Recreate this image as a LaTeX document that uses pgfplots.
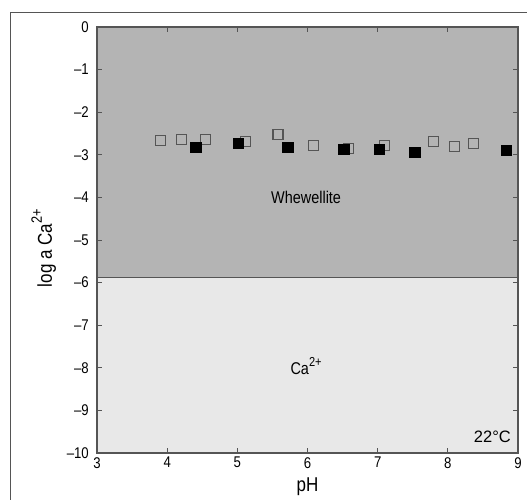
\documentclass[border=0pt]{standalone}
\usepackage{fontspec}
\setmainfont{Liberation Sans}[FakeStretch=0.85]
\newfontfamily\plainsans{Liberation Sans}
\usepackage{pgfplots}
\pgfplotsset{compat=1.18}

\definecolor{topgray}{RGB}{180,180,180}
\definecolor{lowgray}{RGB}{232,232,232}
\definecolor{linegray}{RGB}{85,85,85}

\begin{document}
\begin{tikzpicture}
\begin{axis}[
    name=ax,
    scale only axis,
    width=421pt, height=426pt,
    xmin=3, xmax=9,
    ymin=-10, ymax=0,
    xtick={3,4,5,6,7,8,9},
    xticklabels={3,4,5,6,7,8,9},
    ytick={-10,-9,-8,-7,-6,-5,-4,-3,-2,-1,0},
    yticklabels={--10,--9,--8,--7,--6,--5,--4,--3,--2,--1,0},
    tick align=inside,
    major tick length=5pt,
    tick style={linegray, line width=0.9pt},
    axis line style={linegray, line width=1.1pt},
    axis on top,
    tick label style={font=\fontsize{15.5}{18}\selectfont, inner sep=0pt},
    xticklabel style={anchor=north, yshift=-4pt},
    yticklabel style={anchor=east, xshift=-8pt},
    xlabel={pH},
    ylabel={log a Ca\raisebox{0.5em}{\fontsize{15}{17}\selectfont 2+}},
    label style={font=\fontsize{20}{24}\selectfont, inner sep=0pt},
    xlabel style={at={(axis description cs:0.5,0)}, anchor=base, yshift=-38pt},
    ylabel style={at={(axis description cs:-0.107,0.481)}, anchor=base},
]
% stability fields
\addplot[fill=topgray, draw=none, forget plot] coordinates {(3,-5.88)(9,-5.88)(9,0)(3,0)};
\addplot[fill=lowgray, draw=none, forget plot] coordinates {(3,-10)(9,-10)(9,-5.88)(3,-5.88)};
\addplot[linegray, line width=1.8pt, forget plot] coordinates {(3,-5.88)(9,-5.88)};

% open symbols
\addplot[only marks, mark=square, mark size=5pt, mark options={draw=linegray, line width=1.1pt}] coordinates {
    (3.91,-2.66)(4.21,-2.64)(4.55,-2.64)(5.11,-2.68)(5.58,-2.52)(6.09,-2.78)
    (6.59,-2.85)(7.10,-2.78)(7.79,-2.68)(8.09,-2.80)(8.36,-2.73)
};
% filled symbols
\addplot[only marks, mark=square*, mark size=5.3pt, mark options={draw=black, fill=black}] coordinates {
    (4.41,-2.82)(5.01,-2.73)(5.72,-2.82)(6.52,-2.87)(7.02,-2.87)(7.53,-2.94)(8.83,-2.89)
};

\node[anchor=base, font=\fontsize{17}{20}\selectfont, inner sep=0pt] at (axis cs:5.98,-4.14) {Whewellite};
\node[anchor=base, font=\fontsize{17}{20}\selectfont, inner sep=0pt] at (axis cs:5.98,-8.16) {Ca\raisebox{0.5em}{\fontsize{13}{15}\selectfont 2+}};
\node[anchor=base east, font=\plainsans\fontsize{16.5}{19}\selectfont, inner sep=0pt] at (axis cs:8.9,-9.76) {22°C};
\end{axis}
\useasboundingbox ([shift={(-97pt,-47pt)}]ax.south west) rectangle ([shift={(430pt,453pt)}]ax.south west);
\draw[linegray, line width=0.9pt] ([shift={(-87pt,-47pt)}]ax.south west) -- ([shift={(-87pt,441pt)}]ax.south west) -- ([shift={(430pt,441pt)}]ax.south west);
\end{tikzpicture}
\end{document}
